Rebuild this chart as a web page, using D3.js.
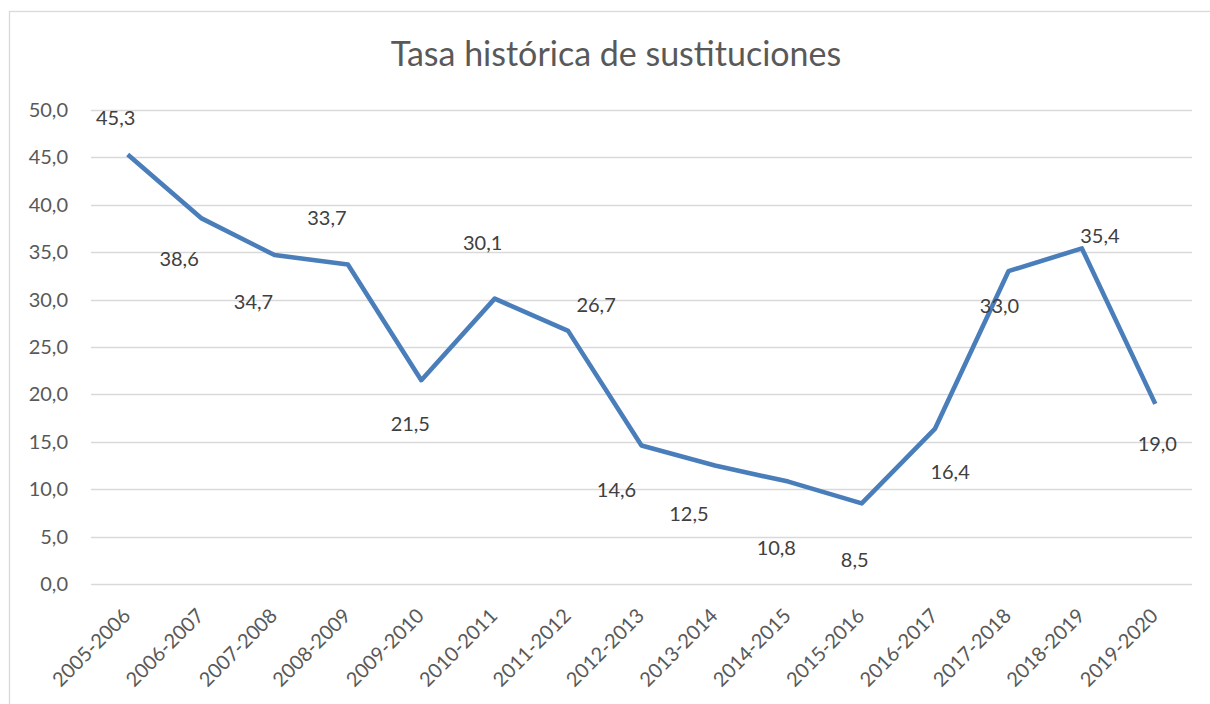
<!DOCTYPE html>
<meta charset="utf-8">
<style>
  body { margin: 0; background: #fff; }
  text { font-family: Lato, "Open Sans", sans-serif; }
</style>
<body>
<div id="chart"></div>
<script src="https://d3js.org/d3.v7.min.js"></script>
<script>

// data
var seasons = ["2005-2006","2006-2007","2007-2008","2008-2009","2009-2010","2010-2011","2011-2012",
               "2012-2013","2013-2014","2014-2015","2015-2016","2016-2017","2017-2018","2018-2019","2019-2020"];
var rates = [45.3, 38.6, 34.7, 33.7, 21.5, 30.1, 26.7, 14.6, 12.5, 10.8, 8.5, 16.4, 33.0, 35.4, 19.0];
var yTicks = [0, 5, 10, 15, 20, 25, 30, 35, 40, 45, 50];
var title = "Tasa histórica de sustituciones";

// label offsets (px) from each point, like excel's auto placement
var labelOffsets = [[-12,-37],[-22,41],[-21,47],[-21,-47],[-11,44],[-12,-56],[28,-26],
                    [-25,44],[-26,48],[-12,66],[-7,57],[15,43],[-9,35],[18,-12],[2,40]];

var width = 1210, height = 704;

var svg = d3.select("#chart").append("svg")
    .attr("width", width)
    .attr("height", height);

// chart frame (right/bottom edges fall outside the shot)
svg.append("rect")
    .attr("x", 9.5).attr("y", 11.5)
    .attr("width", 1260).attr("height", 760)
    .attr("fill", "none")
    .attr("stroke", "#d9d9d9")
    .attr("stroke-width", 1.3);

svg.append("text")
    .attr("x", 616).attr("y", 66)
    .attr("text-anchor", "middle")
    .attr("font-size", 34)
    .attr("fill", "#595959")
    .text(title);

var x = d3.scaleBand()
    .domain(seasons)
    .range([91, 1192]);

var y = d3.scaleLinear()
    .domain([0, 50])
    .range([584, 110]);

var fmt = function(v) { return d3.format(".1f")(v).replace(".", ","); };

// gridlines
svg.append("g")
  .selectAll("line")
  .data(yTicks)
  .enter().append("line")
    .attr("x1", x.range()[0]).attr("x2", x.range()[1])
    .attr("y1", function(d){ return Math.round(y(d)) + 0.5; })
    .attr("y2", function(d){ return Math.round(y(d)) + 0.5; })
    .attr("stroke", "#d9d9d9")
    .attr("stroke-width", 1.5);

// y labels
svg.append("g")
  .selectAll("text")
  .data(yTicks)
  .enter().append("text")
    .attr("x", 68)
    .attr("y", function(d){ return y(d); })
    .attr("dy", "0.35em")
    .attr("text-anchor", "end")
    .attr("font-size", 20)
    .attr("fill", "#595959")
    .text(fmt);

// x labels
svg.append("g")
  .selectAll("text")
  .data(seasons)
  .enter().append("text")
    .attr("transform", function(d){
      return "translate(" + (x(d) + x.bandwidth()/2 + 4) + ",617) rotate(-45)";
    })
    .attr("text-anchor", "end")
    .attr("font-size", 20)
    .attr("fill", "#595959")
    .text(function(d){ return d; });

var line = d3.line()
    .x(function(d, i){ return x(seasons[i]) + x.bandwidth()/2; })
    .y(function(d){ return y(d); });

svg.append("path")
    .datum(rates)
    .attr("d", line)
    .attr("fill", "none")
    .attr("stroke", "#4a7ebb")
    .attr("stroke-width", 4.6)
    .attr("stroke-linejoin", "round");

// data labels
svg.append("g")
  .selectAll("text")
  .data(rates)
  .enter().append("text")
    .attr("x", function(d, i){ return x(seasons[i]) + x.bandwidth()/2 + labelOffsets[i][0]; })
    .attr("y", function(d, i){ return y(d) + labelOffsets[i][1]; })
    .attr("dy", "0.35em")
    .attr("text-anchor", "middle")
    .attr("font-size", 20)
    .attr("fill", "#404040")
    .text(fmt);

</script>
</body>
